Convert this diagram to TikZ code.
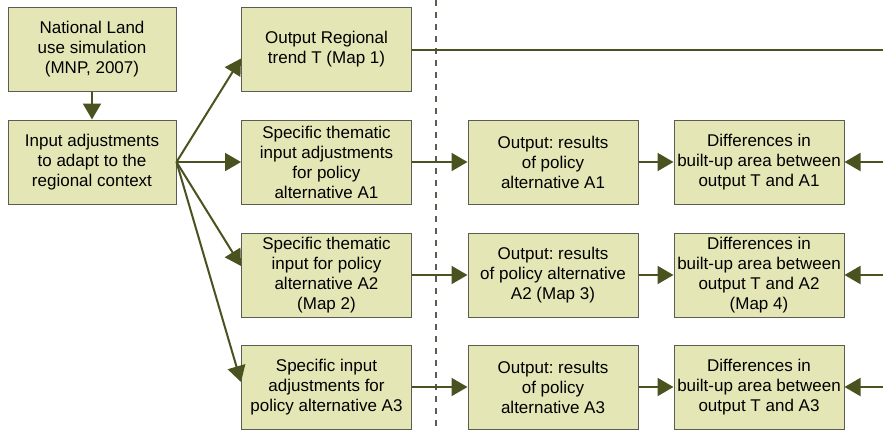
\documentclass[tikz,border=0pt]{standalone}
\usepackage{fontspec}
\setmainfont{Liberation Sans}
\usetikzlibrary{arrows.meta, positioning}
\frenchspacing

\definecolor{boxfill}{HTML}{E4E6B5}
\definecolor{boxline}{HTML}{5C5C52}
\definecolor{olive}{HTML}{4A5320}

\begin{document}
\begin{tikzpicture}[
    x=1pt, y=-1pt,
    % Node styles
    stepbox/.style={
        rectangle,
        draw=boxline,
        line width=1pt,
        fill=boxfill,
        minimum width=170pt,
        minimum height=84pt,
        inner sep=0pt,
        font=\fontsize{17}{20}\selectfont,
        align=center
    },
    arrow/.style={
        -{Triangle[length=16pt, width=18pt]},
        line width=2pt,
        olive
    },
    link/.style={
        line width=2pt,
        olive
    }
]
\useasboundingbox (0,0) rectangle (883,429);
\clip (0,0) rectangle (883,429);

% === Divider ===
\coordinate (divtop) at (436,0);
\coordinate (divbot) at (436,429);
\draw[boxline, line width=1.5pt, dash pattern=on 6pt off 6pt] (divtop) -- (divbot);

% === Left column ===
\node[stepbox, minimum width=168pt] (national) at (92,49.5) {National Land\\use simulation\\(MNP, 2007)};
\node[stepbox, minimum width=168pt] (adjust) at (92,162) {Input adjustments\\to adapt to the\\regional context};

% === Inputs ===
\node[stepbox] (trend) at (326.5,49.5) {Output Regional\\trend T (Map 1)};
\node[stepbox] (inA1) at (326.5,162) {Specific thematic\\input adjustments\\for policy\\alternative A1};
\node[stepbox] (inA2) at (326.5,275) {Specific thematic\\input for policy\\alternative A2\\(Map 2)};
\node[stepbox] (inA3) at (326.5,387) {Specific input\\adjustments for\\policy alternative A3};

% === Outputs ===
\node[stepbox] (outA1) at (553,162) {Output: results\\of policy\\alternative A1};
\node[stepbox] (outA2) at (553,275) {Output: results\\of policy alternative\\A2 (Map 3)};
\node[stepbox] (outA3) at (553,387) {Output: results\\of policy\\alternative A3};

% === Differences ===
\node[stepbox] (difA1) at (759,162) {Differences in\\built-up area between\\output T and A1};
\node[stepbox] (difA2) at (759,275) {Differences in\\built-up area between\\output T and A2\\(Map 4)};
\node[stepbox] (difA3) at (759,387) {Differences in\\built-up area between\\output T and A3};

% right edge ends
\coordinate (edgeT) at (890,49.5);
\coordinate (edge1) at (890,162);
\coordinate (edge2) at (890,275);
\coordinate (edge3) at (890,387);

% === Arrows ===
\draw[arrow] (national) -- (adjust);
\draw[arrow] (adjust.east) -- ([yshift=-9pt]trend.west);
\draw[arrow] (adjust.east) -- (inA1.west);
\draw[arrow] (adjust.east) -- ([yshift=9pt]inA2.west);
\draw[arrow] (adjust.east) -- ([yshift=5pt]inA3.west);

\draw[link] (trend.east) -- (edgeT);

\draw[arrow] (inA1) -- (outA1);
\draw[arrow] (inA2) -- (outA2);
\draw[arrow] (inA3) -- (outA3);

\draw[arrow] (outA1) -- (difA1);
\draw[arrow] (outA2) -- (difA2);
\draw[arrow] (outA3) -- (difA3);

\draw[arrow] (edge1) -- (difA1.east);
\draw[arrow] (edge2) -- (difA2.east);
\draw[arrow] (edge3) -- (difA3.east);

\end{tikzpicture}
\end{document}
